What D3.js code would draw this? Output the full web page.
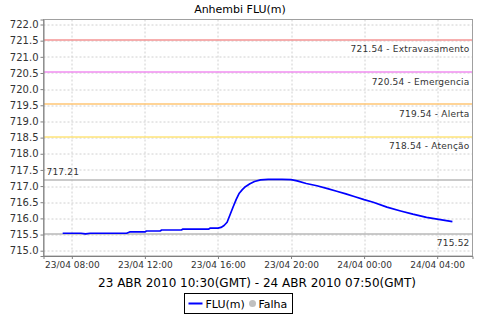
<!DOCTYPE html>
<html lang="pt">

<head>
  <meta charset="UTF-8">
  <title>Anhembi FLU(m)</title>
  <script src="https://d3js.org/d3.v7.min.js"></script>
  <style>
    body { margin: 0; background: #fff; }
    svg { display: block; font-family: "DejaVu Sans", sans-serif; }
  </style>
</head>

<body>
  <svg width="480" height="320" id="chart"></svg>

  <script>
    // level readings (times as shown on the axis, GMT-3)
    const times = [
      "2010-04-23 07:30", "2010-04-23 08:00", "2010-04-23 08:30", "2010-04-23 08:45", "2010-04-23 09:00",
      "2010-04-23 10:00", "2010-04-23 11:00", "2010-04-23 11:10", "2010-04-23 12:00", "2010-04-23 12:05",
      "2010-04-23 12:50", "2010-04-23 12:55", "2010-04-23 14:00", "2010-04-23 14:05", "2010-04-23 15:30",
      "2010-04-23 15:35", "2010-04-23 16:00", "2010-04-23 16:10", "2010-04-23 16:20", "2010-04-23 16:30",
      "2010-04-23 16:40", "2010-04-23 16:50", "2010-04-23 17:00", "2010-04-23 17:10", "2010-04-23 17:20",
      "2010-04-23 17:30", "2010-04-23 17:45", "2010-04-23 18:00", "2010-04-23 18:20", "2010-04-23 18:45",
      "2010-04-23 19:30", "2010-04-23 20:00", "2010-04-23 20:20", "2010-04-23 20:50", "2010-04-23 21:25",
      "2010-04-23 22:00", "2010-04-23 22:30", "2010-04-23 23:00", "2010-04-23 23:30", "2010-04-24 00:00",
      "2010-04-24 00:30", "2010-04-24 01:15", "2010-04-24 02:00", "2010-04-24 02:40", "2010-04-24 03:25",
      "2010-04-24 04:10", "2010-04-24 04:50"
    ];
    const levels = [
      715.54, 715.54, 715.54, 715.52, 715.54,
      715.54, 715.54, 715.58, 715.58, 715.61,
      715.61, 715.64, 715.64, 715.67, 715.67,
      715.70, 715.70, 715.72, 715.78, 715.88,
      716.12, 716.36, 716.59, 716.78, 716.89,
      716.98, 717.07, 717.14, 717.19, 717.21,
      717.21, 717.20, 717.16, 717.08, 717.01,
      716.92, 716.84, 716.76, 716.67, 716.58,
      716.50, 716.35, 716.23, 716.13, 716.03,
      715.96, 715.90
    ];

    // alert levels
    const markerValues = [721.54, 720.54, 719.54, 718.54];
    const markerNames = ["Extravasamento", "Emergencia", "Alerta", "Atenção"];
    const markerColors = ["#f59595", "#f08ef0", "#ffc674", "#ffe47a"];
    const maxLevel = 717.21;
    const minLevel = 715.52;

    const yTicks = [715.0, 715.5, 716.0, 716.5, 717.0, 717.5, 718.0, 718.5, 719.0, 719.5,
      720.0, 720.5, 721.0, 721.5, 722.0];
    const xRange = ["2010-04-23 06:27", "2010-04-24 05:56"];
    const titleText = "Anhembi FLU(m)";
    const axisTitle = "23 ABR 2010 10:30(GMT) - 24 ABR 2010 07:50(GMT)";
    const legendNames = ["FLU(m)", "Falha"];

    const parse = d3.utcParse("%Y-%m-%d %H:%M");
    const data = times.map((t, i) => ({ date: parse(t), value: levels[i] }));

    const svg = d3.select("#chart");
    const margin = { top: 19.5, right: 7.5, bottom: 64, left: 43.5 };
    const width = 480 - margin.left - margin.right;
    const height = 320 - margin.top - margin.bottom;

    const x = d3.scaleUtc()
      .domain(xRange.map(parse))
      .range([0, width]);
    const y = d3.scaleLinear()
      .domain([714.836, 722.155])
      .range([height, 0]);

    const crisp = v => Math.round(v) + 0.5;

    const plot = svg.append("g")
      .attr("transform", `translate(${margin.left},${margin.top})`);

    plot.append("rect")
      .attr("width", width).attr("height", height)
      .attr("fill", "#fff");

    const xTicks = x.ticks(d3.utcHour.every(4));

    // grid
    plot.selectAll("line.vgrid").data(xTicks).join("line")
      .attr("class", "vgrid")
      .attr("x1", d => crisp(x(d))).attr("x2", d => crisp(x(d)))
      .attr("y1", 0).attr("y2", height)
      .attr("stroke", "#d0d0d0").attr("stroke-dasharray", "2,2");
    plot.selectAll("line.hgrid").data(yTicks).join("line")
      .attr("class", "hgrid")
      .attr("x1", 0).attr("x2", width)
      .attr("y1", d => crisp(y(d))).attr("y2", d => crisp(y(d)))
      .attr("stroke", "#d0d0d0").attr("stroke-dasharray", "2,2");

    // alert markers
    plot.selectAll("line.marker").data(markerValues).join("line")
      .attr("class", "marker")
      .attr("x1", 0).attr("x2", width)
      .attr("y1", d => crisp(y(d))).attr("y2", d => crisp(y(d)))
      .attr("stroke", (d, i) => markerColors[i]).attr("stroke-width", 1.3);
    plot.selectAll("text.marker").data(markerValues).join("text")
      .attr("class", "marker")
      .attr("x", width - 3).attr("y", d => y(d) + 13)
      .attr("text-anchor", "end")
      .attr("font-size", "9px").attr("fill", "#333")
      .attr("letter-spacing", "0.2px")
      .text((d, i) => d.toFixed(2) + " - " + markerNames[i]);

    // max / min lines
    plot.selectAll("line.range").data([maxLevel, minLevel]).join("line")
      .attr("class", "range")
      .attr("x1", 0).attr("x2", width)
      .attr("y1", d => crisp(y(d))).attr("y2", d => crisp(y(d)))
      .attr("stroke", "#b8b8b8").attr("stroke-width", 1.3);
    plot.append("text")
      .attr("x", 3).attr("y", y(maxLevel) - 4)
      .attr("font-size", "9px").attr("fill", "#333").attr("letter-spacing", "0.2px")
      .text(maxLevel.toFixed(2));
    plot.append("text")
      .attr("x", width - 3).attr("y", y(minLevel) + 12)
      .attr("text-anchor", "end")
      .attr("font-size", "9px").attr("fill", "#333").attr("letter-spacing", "0.2px")
      .text(minLevel.toFixed(2));

    // series
    const line = d3.line()
      .x(d => x(d.date))
      .y(d => y(d.value));
    plot.append("path")
      .datum(data)
      .attr("d", line)
      .attr("fill", "none")
      .attr("stroke", "#0000ff")
      .attr("stroke-width", 1.7)
      .attr("stroke-linejoin", "round");

    // outline
    plot.append("rect")
      .attr("width", width).attr("height", height)
      .attr("fill", "none").attr("stroke", "#a0a0a0");

    // axes
    const yAxis = d3.axisLeft(y).tickValues(yTicks).tickFormat(d3.format(".1f"))
      .tickSize(3).tickPadding(2);
    const gy = plot.append("g").call(yAxis);
    gy.selectAll("text").attr("font-size", "10px").attr("fill", "#333").attr("font-family", "DejaVu Sans");
    gy.selectAll("line").attr("stroke", "#808080");
    gy.select(".domain").attr("stroke", "#808080");

    const xAxis = d3.axisBottom(x).tickValues(xTicks).tickFormat(d3.utcFormat("%d/%m %H:%M"))
      .tickSize(3).tickPadding(3);
    const gx = plot.append("g").attr("transform", `translate(0,${height})`).call(xAxis);
    gx.selectAll("text").attr("font-size", "9px").attr("fill", "#333").attr("font-family", "DejaVu Sans");
    gx.selectAll("line").attr("stroke", "#808080");
    gx.select(".domain").attr("stroke", "#808080");

    // titles
    svg.append("text")
      .attr("x", 240).attr("y", 13)
      .attr("text-anchor", "middle")
      .attr("font-size", "11px").attr("fill", "#000")
      .text(titleText);
    svg.append("text")
      .attr("x", 257).attr("y", 287)
      .attr("text-anchor", "middle")
      .attr("font-size", "12px").attr("fill", "#000")
      .text(axisTitle);

    // legend
    const legend = svg.append("g").attr("transform", "translate(184.5,293.5)");
    legend.append("rect")
      .attr("width", 108).attr("height", 20)
      .attr("fill", "#fff").attr("stroke", "#000");
    legend.append("line")
      .attr("x1", 4).attr("x2", 18).attr("y1", 10).attr("y2", 10)
      .attr("stroke", "#0000ff").attr("stroke-width", 2);
    legend.append("text")
      .attr("x", 21).attr("y", 14)
      .attr("font-size", "11px").text(legendNames[0]);
    legend.append("circle")
      .attr("cx", 68).attr("cy", 10).attr("r", 3.5)
      .attr("fill", "#c0c0c0");
    legend.append("text")
      .attr("x", 74).attr("y", 14)
      .attr("font-size", "11px").text(legendNames[1]);
  </script>

</body>

</html>
